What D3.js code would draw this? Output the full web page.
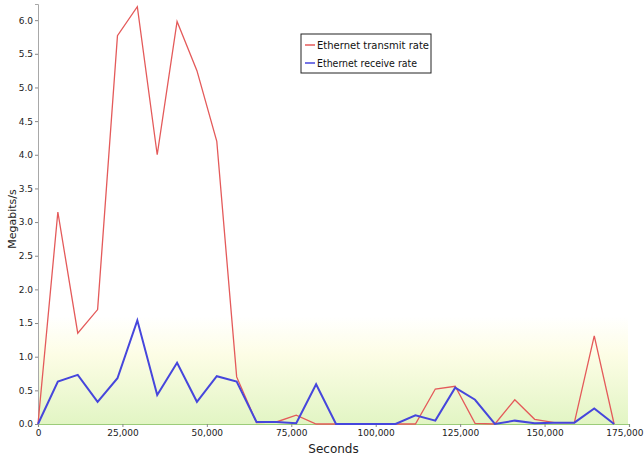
<!DOCTYPE html>
<html>
<head>
<meta charset="utf-8">
<script src="https://cdn.jsdelivr.net/npm/d3@7"></script>
<style>
  html, body { margin: 0; padding: 0; background: #ffffff; }
  svg { display: block; }
</style>
</head>
<body>
<svg id="chart" width="644" height="459"></svg>
<script>
// ---- data ----
const seconds = [0, 5880, 11770, 17650, 23530, 29410, 35300, 41180, 47060, 52940,
                 58830, 64710, 70590, 76470, 82350, 88240, 94120, 100000, 105880, 111760,
                 117650, 123530, 129410, 135290, 141180, 147060, 152940, 158820, 164710, 170590];
const transmitRate = [0, 3.15, 1.35, 1.70, 5.77, 6.20, 4.00, 5.98, 5.25, 4.20,
                      0.70, 0.02, 0.03, 0.13, 0.00, 0.00, 0.00, 0.00, 0.00, 0.00,
                      0.52, 0.56, 0.01, 0.00, 0.36, 0.07, 0.02, 0.02, 1.31, 0.00];
const receiveRate = [0, 0.63, 0.73, 0.33, 0.68, 1.54, 0.43, 0.91, 0.33, 0.71,
                     0.63, 0.03, 0.03, 0.01, 0.59, 0.00, 0.00, 0.00, 0.00, 0.13,
                     0.05, 0.54, 0.36, 0.00, 0.05, 0.01, 0.02, 0.02, 0.23, 0.00];
const xTicks = [0, 25000, 50000, 75000, 100000, 125000, 150000, 175000];
const yTicks = [0, 0.5, 1.0, 1.5, 2.0, 2.5, 3.0, 3.5, 4.0, 4.5, 5.0, 5.5, 6.0];
const seriesNames = ["Ethernet transmit rate", "Ethernet receive rate"];
const seriesColors = ["#e45a5a", "#4646dc"];

// ---- layout ----
const svg = d3.select("#chart");
const mLeft = 38, mRight = 629, mTop = 4, mBottom = 424;
const x = d3.scaleLinear().domain([0, 175000]).range([mLeft, mRight]);
const y = d3.scaleLinear().domain([0, 6.24]).range([mBottom, mTop]);

// gradient band at the bottom
const defs = svg.append("defs");
const grad = defs.append("linearGradient").attr("id", "band")
  .attr("x1", 0).attr("y1", 0).attr("x2", 0).attr("y2", 1);
grad.append("stop").attr("offset", "0%").attr("stop-color", "#ffffff");
grad.append("stop").attr("offset", "35%").attr("stop-color", "#fdfde6");
grad.append("stop").attr("offset", "100%").attr("stop-color", "#e2f5c4");
svg.append("rect")
  .attr("x", mLeft).attr("y", y(1.6))
  .attr("width", mRight - 1 - mLeft).attr("height", mBottom - y(1.6))
  .attr("fill", "url(#band)");

const font = "'DejaVu Sans', sans-serif";

// axes
const xAxis = d3.axisBottom(x).tickValues(xTicks).tickFormat(d3.format(",")).tickSize(3).tickPadding(3);
const gx = svg.append("g").attr("transform", `translate(0,${mBottom})`).call(xAxis);
gx.select(".domain").attr("stroke", "#9ccc7a").attr("stroke-width", 1.2);
gx.selectAll(".tick line").attr("stroke", "#888");
gx.selectAll("text").attr("font-family", font).attr("font-size", 9).attr("fill", "#222");
gx.selectAll(".tick:last-of-type text").attr("text-anchor", "end").attr("dx", 14);

const yAxis = d3.axisLeft(y).tickValues(yTicks).tickFormat(d3.format(".1f")).tickSize(3).tickPadding(2);
const gy = svg.append("g").attr("transform", `translate(${mLeft},0)`).call(yAxis);
gy.select(".domain").attr("stroke", "#a8a8a8");
gy.selectAll(".tick line").attr("stroke", "#888");
gy.selectAll("text").attr("font-family", font).attr("font-size", 9).attr("fill", "#222");

// axis titles
svg.append("text").attr("x", (mLeft + mRight) / 2).attr("y", 453)
  .attr("text-anchor", "middle").attr("font-family", font).attr("font-size", 12).attr("fill", "#222")
  .text("Seconds");
svg.append("text").attr("transform", `translate(16,${(mTop + mBottom) / 2 + 5}) rotate(-90)`)
  .attr("text-anchor", "middle").attr("font-family", font).attr("font-size", 11).attr("fill", "#222")
  .text("Megabits/s");

// lines
const allSeries = [transmitRate, receiveRate];
const widths = [1.3, 2.0];
allSeries.forEach((vals, k) => {
  const line = d3.line().x((d, i) => x(seconds[i])).y(d => y(d));
  svg.append("path").datum(vals)
    .attr("fill", "none").attr("stroke", seriesColors[k])
    .attr("stroke-width", widths[k]).attr("stroke-linejoin", "miter")
    .attr("d", line);
});

// legend
const legendTextLen = [112, 100];
const lg = svg.append("g").attr("transform", "translate(301,34)");
lg.append("rect").attr("width", 130).attr("height", 39)
  .attr("fill", "#ffffff").attr("stroke", "#222").attr("stroke-width", 1);
seriesNames.forEach((name, k) => {
  const cy = 11 + k * 18;
  lg.append("line").attr("x1", 4).attr("x2", 14).attr("y1", cy).attr("y2", cy)
    .attr("stroke", seriesColors[k]).attr("stroke-width", 1.5);
  lg.append("text").attr("x", 16).attr("y", cy + 4)
    .attr("font-family", font).attr("font-size", 10).attr("fill", "#111")
    .attr("textLength", legendTextLen[k]).attr("lengthAdjust", "spacingAndGlyphs")
    .text(name);
});
</script>
</body>
</html>
